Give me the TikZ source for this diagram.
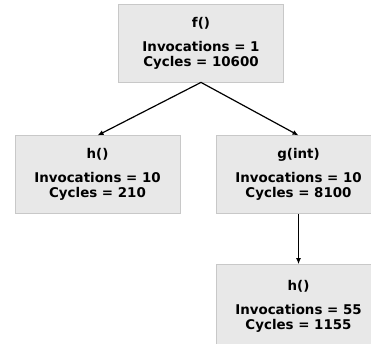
\documentclass[tikz,border=0pt]{standalone}
\usepackage{fontspec}
\setmainfont{DejaVu Sans}
\usetikzlibrary{positioning,arrows.meta}

\definecolor{boxfill}{HTML}{E8E8E8}
\definecolor{boxline}{HTML}{C8C8C8}

\tikzset{
	callbox/.style={draw=boxline, fill=boxfill, line width=0.8pt, rectangle,
		minimum width=165pt, minimum height=78pt, inner sep=0pt,
		align=center, font=\fontsize{13.4}{15}\selectfont\bfseries},
	callarrow/.style={-{Latex[length=6pt,width=5pt]}, line width=1.2pt, black},
}

\begin{document}
\begin{tikzpicture}[x=1pt, y=1pt]
	\clip (0,0) rectangle (371,-343);
	\useasboundingbox (0,0) rectangle (371,-343);
	
	\node[callbox] (f) at (201,-43) {f()\\[9pt]Invocations = 1\\Cycles = 10600};
	\node[callbox, below=53pt of f, xshift=-103.5pt] (h) {h()\\[9pt]Invocations = 10\\Cycles = 210};
	\node[callbox, below=53pt of f, xshift=97.5pt] (g) {g(int)\\[9pt]Invocations = 10\\Cycles = 8100};
	\node[callbox, minimum height=84pt, below=50pt of g] (hh) {h()\\[9pt]Invocations = 55\\Cycles = 1155};
	
	\draw[callarrow] (f.south) -- (h.north);
	\draw[callarrow] (f.south) -- (g.north);
	\draw[callarrow] (g.south) -- (hh.north);
\end{tikzpicture}
\end{document}
